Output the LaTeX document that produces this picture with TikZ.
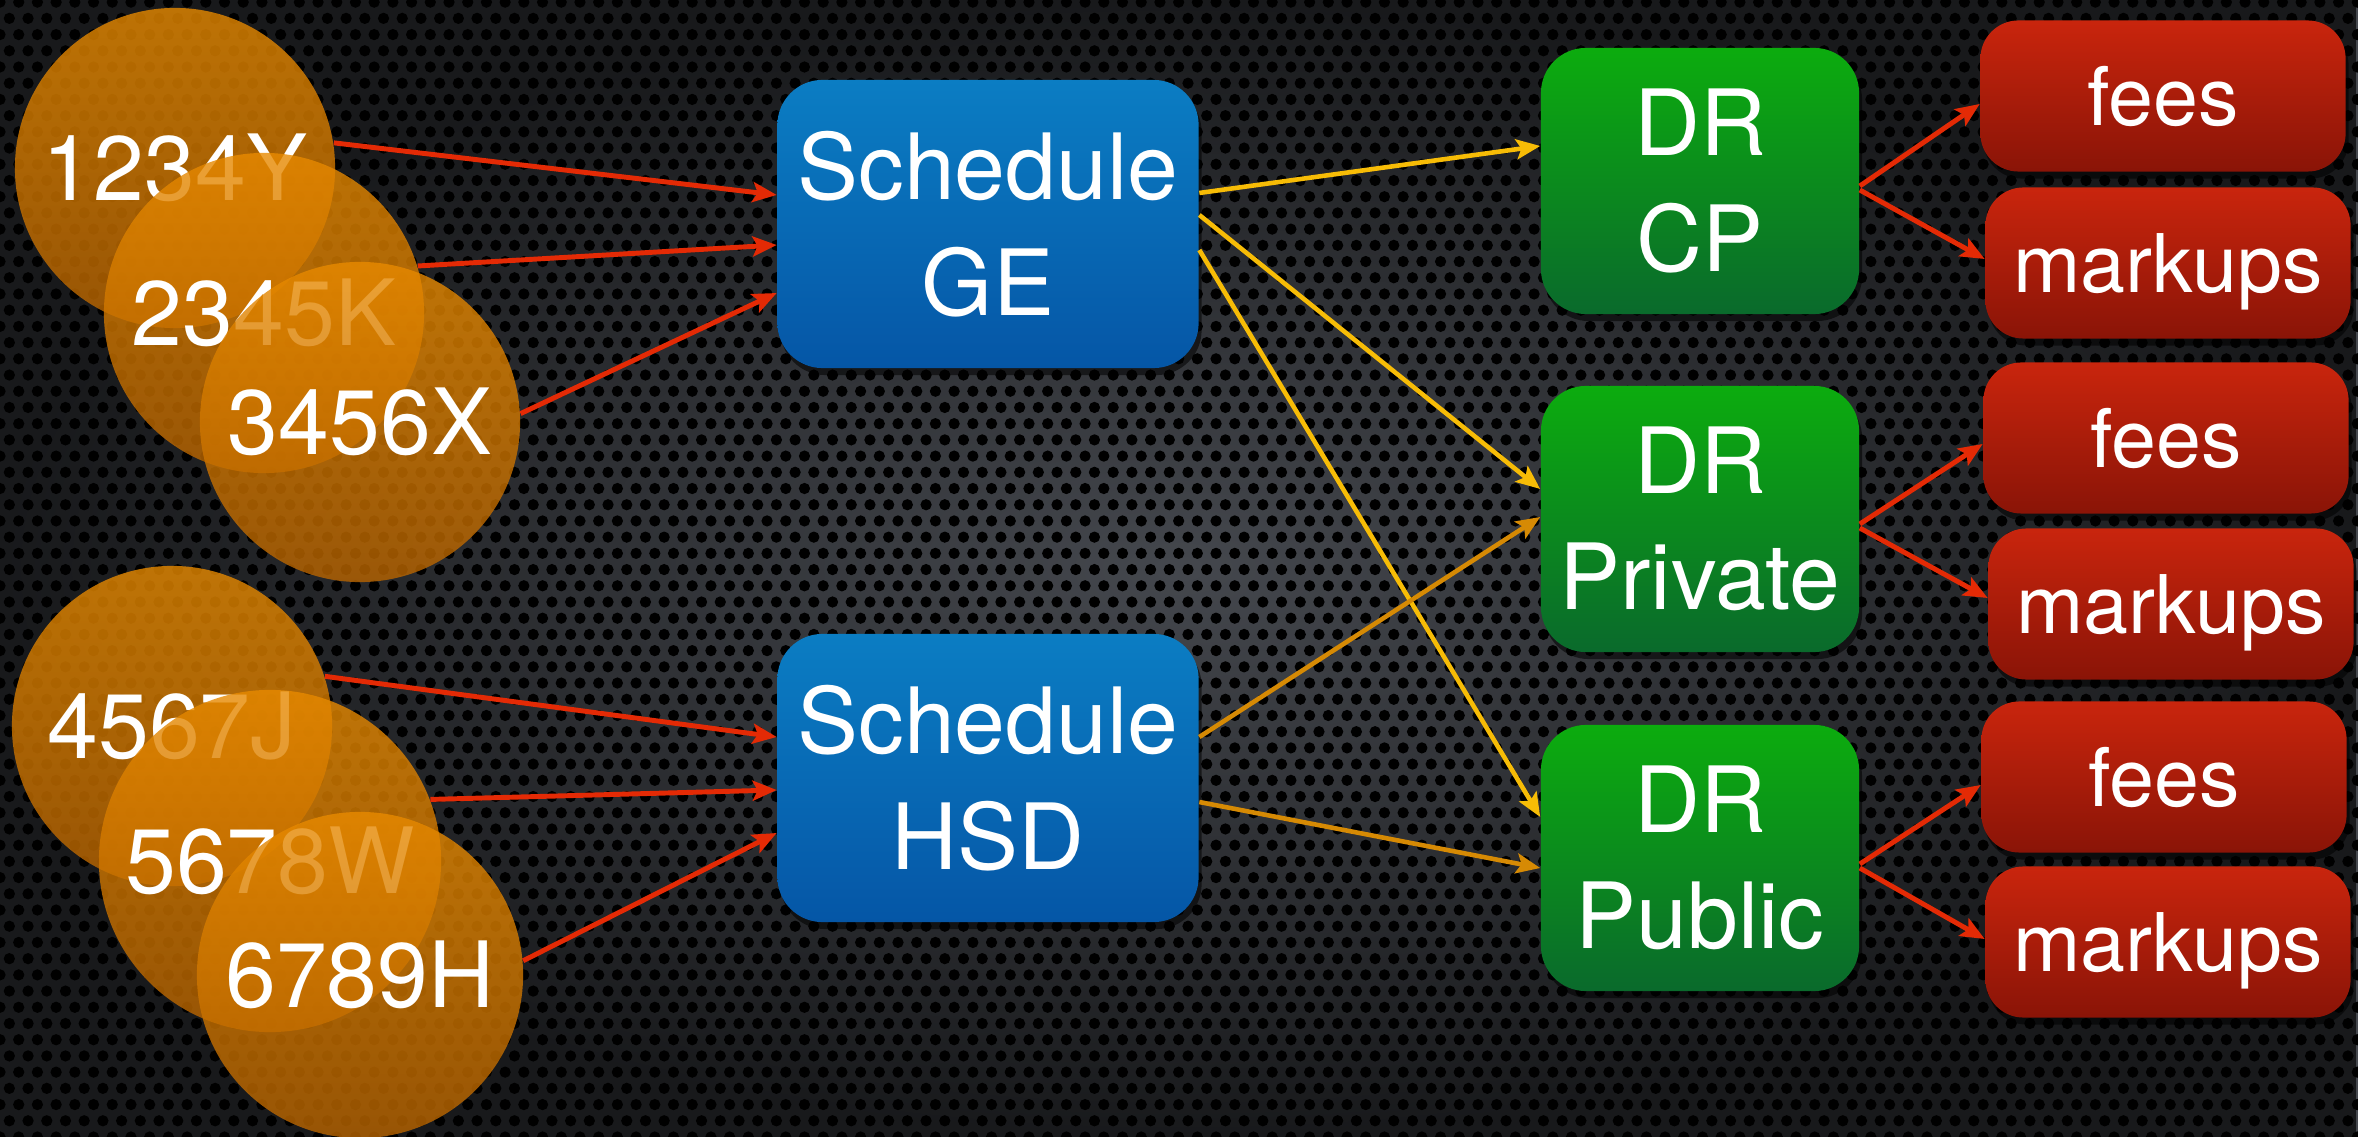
\documentclass[tikz,border=0pt]{standalone}
\usepackage{fontspec}
\setmainfont{TeX Gyre Heros}
\usetikzlibrary{arrows.meta, shadows, patterns, fadings}

\definecolor{meshgray}{HTML}{45484E}
\definecolor{tagtop}{HTML}{E88A00}
\definecolor{tagbot}{HTML}{B86400}
\definecolor{bluetop}{HTML}{0B7DC3}
\definecolor{bluebot}{HTML}{0556A6}
\definecolor{greentop}{HTML}{0CAC0E}
\definecolor{greenbot}{HTML}{0A6A2C}
\definecolor{redtop}{HTML}{C9250D}
\definecolor{redbot}{HTML}{8A1407}
\definecolor{arrred}{HTML}{E42A05}
\definecolor{arryel}{HTML}{F7BC06}
\definecolor{arrorg}{HTML}{D68A04}

% perforated metal: staggered holes
\pgfdeclarepatternformonly{mesh}{\pgfqpoint{-1.7pt}{-1.7pt}}{\pgfqpoint{4.4pt}{6.4pt}}{\pgfqpoint{5.32pt}{9.22pt}}{
  \pgfpathcircle{\pgfpointorigin}{1.6pt}
  \pgfpathcircle{\pgfqpoint{2.66pt}{4.61pt}}{1.6pt}
  \pgfusepath{fill}
}
\tikzfading[name=vignette, inner color=transparent!100, outer color=transparent!0]

\begin{document}
\begin{tikzpicture}[x=0.01cm, y=-0.01cm, >={Stealth[length=0.24cm, width=0.2cm, inset=0.05cm]},
  tag/.style={circle, minimum size=3.2cm, inner sep=0pt, top color=tagtop, bottom color=tagbot, fill opacity=0.8, text opacity=1, text=white, font=\fontsize{26}{31}\selectfont},
  box/.style={rounded corners=0.45cm, align=center, text=white, font=\fontsize{26}{33}\selectfont, drop shadow={fill=black, opacity=0.55, shadow xshift=0.03cm, shadow yshift=-0.07cm}},
  sched/.style={box, minimum width=4.21cm, minimum height=2.88cm, top color=bluetop, bottom color=bluebot},
  dr/.style={box, minimum width=3.18cm, minimum height=2.66cm, top color=greentop, bottom color=greenbot},
  cost/.style={box, rounded corners=0.38cm, minimum width=3.65cm, minimum height=1.51cm, text depth=0pt, top color=redtop, bottom color=redbot, font=\fontsize{23}{28}\selectfont},
  feed/.style={draw=arrred, line width=1.4pt, ->},
  route/.style={draw=arryel, line width=1.3pt, ->},
  routeb/.style={draw=arrorg, line width=1.3pt, ->}]

\useasboundingbox (0,0) rectangle (2358,1137);
\fill[meshgray] (0,0) rectangle (2358,1137);
\fill[pattern=mesh, pattern color=black] (0,0) rectangle (2358,1137);
\fill[black, path fading=vignette, fill opacity=0.65] (0,0) rectangle (2358,1137);

% ids
\node[tag] (id1) at (175,168) {1234Y};
\node[tag] (id2) at (264,313) {2345K};
\node[tag] (id3) at (360,422) {3456X};
\node[tag] (id4) at (172,726) {4567J};
\node[tag, minimum size=3.42cm] (id5) at (270,861) {5678W};
\node[tag, minimum size=3.26cm] (id6) at (360,975) {6789H};

% schedules
\node[sched] (ge) at (988,224) {Schedule\\GE};
\node[sched] (hsd) at (988,778) {Schedule\\HSD};

% DR boxes
\node[dr] (cp) at (1700,181) {DR\\CP};
\node[dr] (priv) at (1700,519) {DR\\Private};
\node[dr] (pub) at (1700,858) {DR\\Public};

% fees and markups
\node[cost] (fee1) at (2163,96) {fees};
\node[cost] (mk1) at (2168,263) {markups};
\node[cost] (fee2) at (2166,438) {fees};
\node[cost] (mk2) at (2171,604) {markups};
\node[cost] (fee3) at (2164,777) {fees};
\node[cost] (mk3) at (2168,942) {markups};

\draw[feed] (id1.9) -- ([yshift=0.29cm]ge.west);
\draw[feed] (id2.17) -- ([yshift=-0.21cm]ge.west);
\draw[feed] (id3.3) -- ([yshift=-0.69cm]ge.west);
\draw[feed] (id4.18) -- ([yshift=0.41cm]hsd.west);
\draw[feed] (id5.21) -- ([yshift=-0.12cm]hsd.west);
\draw[feed] (id6.5) -- ([yshift=-0.55cm]hsd.west);

\draw[route] ([yshift=0.31cm]ge.east) -- ([yshift=0.35cm]cp.west);
\draw[route] ([yshift=0.09cm]ge.east) -- ([yshift=0.30cm]priv.west);
\draw[route] ([yshift=-0.26cm]ge.east) -- ([yshift=0.41cm]pub.west);
\draw[routeb] ([yshift=0.41cm]hsd.east) -- ([yshift=0.02cm]priv.west);
\draw[routeb] ([yshift=-0.24cm]hsd.east) -- ([yshift=-0.10cm]pub.west);

\draw[feed] ([yshift=-0.05cm]cp.east) -- ([yshift=-0.08cm]fee1.west);
\draw[feed] ([yshift=-0.09cm]cp.east) -- ([yshift=0.04cm]mk1.west);
\draw[feed] ([yshift=-0.05cm]priv.east) -- ([yshift=-0.06cm]fee2.west);
\draw[feed] ([yshift=-0.09cm]priv.east) -- ([yshift=0.06cm]mk2.west);
\draw[feed] ([yshift=-0.06cm]pub.east) -- ([yshift=-0.08cm]fee3.west);
\draw[feed] ([yshift=-0.10cm]pub.east) -- ([yshift=0.03cm]mk3.west);
\end{tikzpicture}
\end{document}
